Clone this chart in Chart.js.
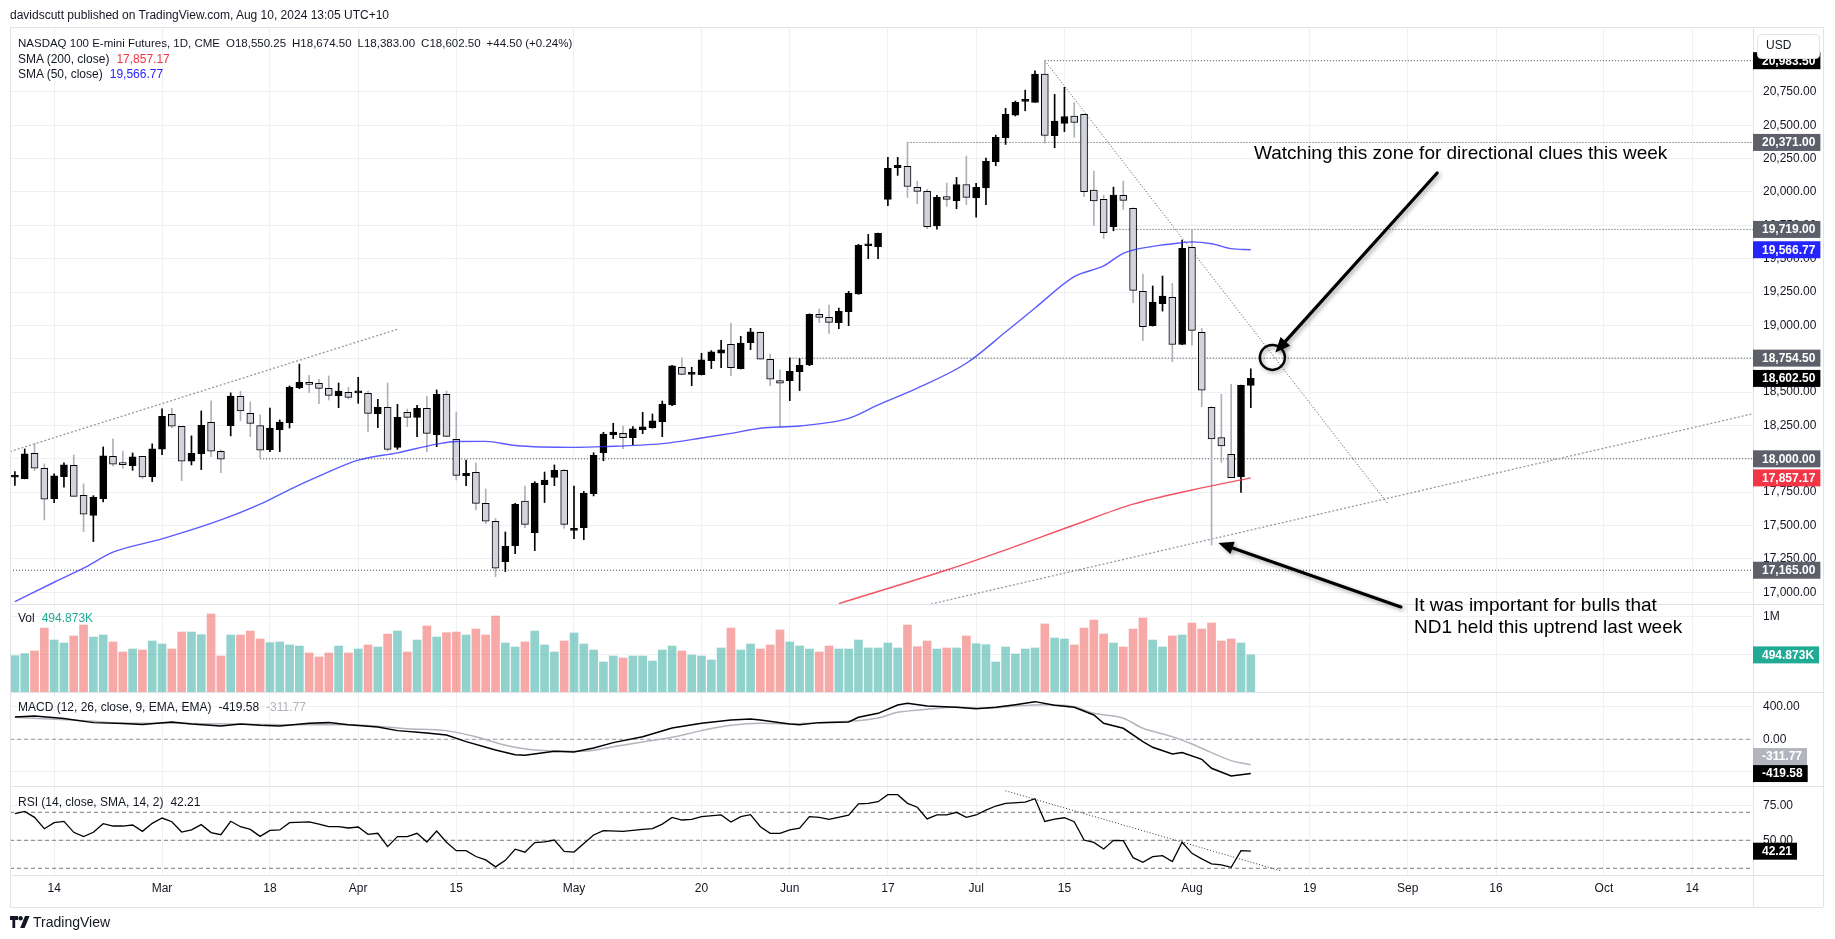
<!DOCTYPE html>
<html>
<head>
    <title>NASDAQ 100 E-mini Futures, 1D</title>
    <script src="https://cdn.jsdelivr.net/npm/chart.js"></script>
    <style>
        body { margin: 0; background: #fff; }
        #wrap { position: relative; width: 1835px; height: 939px; overflow: hidden; font-family: 'Liberation Sans', Arial, sans-serif; color: #131722; }
        #chart { position: absolute; left: 0; top: 0; }
        .lbl { position: absolute; white-space: nowrap; font-size: 12px; line-height: 16px; }
        .lbl span { margin-left: 7px; }
        .lbl span:first-child { margin-left: 0; }
        .small { font-size: 11.5px; }
        .small span { margin-left: 6px; }
        .note { position: absolute; white-space: nowrap; font-size: 19px; line-height: 22px; color: #000; }
        .logo { position: absolute; left: 10px; top: 913px; font-size: 14px; line-height: 18px; display: flex; align-items: center; gap: 3px; }
    </style>
</head>
<body>
<div id="wrap">
    <canvas id="chart" width="1835" height="939"></canvas>
    <div class="lbl" style="left:10px;top:7px">davidscutt published on TradingView.com, Aug 10, 2024 13:05 UTC+10</div>
    <div class="lbl small" style="left:18px;top:35px"><span>NASDAQ 100 E-mini Futures, 1D, CME</span><span>O18,550.25</span><span>H18,674.50</span><span>L18,383.00</span><span>C18,602.50</span><span>+44.50 (+0.24%)</span></div>
    <div class="lbl" style="left:18px;top:51px"><span>SMA (200, close)</span><span style="color:#f23645">17,857.17</span></div>
    <div class="lbl" style="left:18px;top:66px"><span>SMA (50, close)</span><span style="color:#2424ff">19,566.77</span></div>
    <div class="lbl" style="left:18px;top:610px"><span>Vol</span><span style="color:#22ab94">494.873K</span></div>
    <div class="lbl" style="left:18px;top:699px"><span>MACD (12, 26, close, 9, EMA, EMA)</span><span>-419.58</span><span style="color:#b2b5be">-311.77</span></div>
    <div class="lbl" style="left:18px;top:794px"><span>RSI (14, close, SMA, 14, 2)</span><span>42.21</span></div>
    <div class="note" style="left:1254px;top:142px">Watching this zone for directional clues this week</div>
    <div class="note" style="left:1414px;top:594px">It was important for bulls that<br>ND1 held this uptrend last week</div>
    <div class="logo">
        <svg width="20" height="12" viewBox="0 0 20 12"><path d="M0 0h8v4H5.2v8H2.4V4H0z" fill="#131722"/><circle cx="10.6" cy="2.2" r="2.2" fill="#131722"/><path d="M15 0h4.6l-5 12h-4.4z" fill="#131722"/></svg>
        <span>TradingView</span>
    </div>
</div>

<script>
    // x positions are trading-day indices: 0 = Feb 8 2024, 126 = Aug 9 2024
    const tickIdx  = [4, 15, 26, 35, 45, 57, 70, 79, 89, 98, 107, 120, 132, 142, 151, 162, 171];
    const tickText = ['14', 'Mar', '18', 'Apr', '15', 'May', '20', 'Jun', '17', 'Jul', '15', 'Aug', '19', 'Sep', '16', 'Oct', '14'];

    const opens = [17862,17852,18042,17929,17702,17867,17952,17727,17575,17702,
        18019,17960,17949,18019,17867,18072,18334,18244,17982,18039,
        18274,18057,18249,18469,18341,18249,18069,18218,18271,18533,
        18573,18566,18528,18473,18498,18494,18491,18338,18386,18086,
        18348,18311,18378,18181,18483,18146,17874,17899,17666,17532,
        17230,17349,17684,17447,17806,17861,17914,17464,17484,17739,
        18046,18181,18191,18159,18219,18234,18279,18403,18686,18633,
        18631,18736,18791,18858,18676,18871,18948,18746,18586,18586,
        18653,18703,19083,19060,19021,19103,19235,19597,19590,19944,
        20181,20191,20034,20004,19746,19966,19934,20056,19956,20031,
        20226,20406,20576,20679,20671,20883,20421,20514,20569,20581,
        20014,19944,19739,19974,19877,19255,18998,19163,19210,18857,
        19585,18947,18386,18159,18033,17866,18550.25];
    const highs = [17905,18074,18117,17962,17887,17969,18029,17812,17724,18089,
        18149,18057,18044,18019,18112,18374,18379,18244,18172,18359,
        18434,18067,18494,18506,18426,18329,18381,18291,18546,18710,
        18626,18596,18621,18568,18536,18611,18508,18446,18568,18408,
        18373,18401,18468,18516,18508,18351,17991,17969,17774,17554,
        17452,17667,17796,17829,17901,17954,17921,17796,17756,18046,
        18199,18266,18246,18241,18349,18336,18433,18701,18756,18686,
        18791,18811,18888,19018,18918,18978,18952,18786,18666,18756,
        18751,19086,19123,19153,19130,19255,19607,19682,19692,20259,
        20259,20371,20081,20019,19974,20066,20109,20269,20064,20254,
        20426,20626,20681,20763,20908,20983.5,20731,20784,20669,20584,
        20156,19977,20036,20081,19880,19385,19295,19370,19315,19640,
        19719,18977,18391,18483,18558,18553,18674.5];
    const lows = [17800,17850,17912,17542,17672,17787,17719,17455,17380,17677,
        17947,17929,17914,17854,17829,18032,18234,17837,17954,17919,
        18017,17897,18172,18286,18166,18007,18054,18054,18231,18526,
        18496,18414,18441,18383,18449,18416,18204,18234,18059,18071,
        18241,18166,18054,18091,18166,17841,17799,17617,17514,17117,
        17155,17290,17484,17312,17672,17799,17479,17402,17394,17722,
        17986,18151,18076,18106,18189,18230,18166,18398,18630,18548,
        18628,18676,18683,18623,18673,18818,18744,18548,18239,18436,
        18511,18698,19021,18940,18976,18998,19233,19500,19500,19897,
        20124,19959,19911,19724,19721,19892,19874,19904,19810,19904,
        20196,20356,20569,20608,20671,20366,20331,20451,20409,19964,
        19749,19652,19709,19869,19170,18885,18995,19107,18727,18855,
        18852,18391,17354,17974,17858,17749,18383];
    const closes = [17868,18037,17929,17697,17872,17954,17719,17585,17714,18022,
        17959,17956,18014,17864,18074,18319,18244,17982,18042,18251,
        18057,17997,18471,18359,18266,18064,18231,18276,18536,18573,
        18558,18528,18476,18508,18461,18498,18341,18386,18071,18311,
        18311,18378,18191,18483,18168,17876,17891,17666,17532,17180,
        17344,17659,17509,17819,17841,17914,17509,17472,17742,18026,
        18186,18201,18159,18224,18239,18284,18411,18696,18633,18641,
        18741,18801,18816,18683,18868,18951,18746,18596,18566,18656,
        18701,19083,19060,19023,19106,19240,19600,19602,19690,20177,
        20199,20041,20004,19739,19959,19944,20056,19959,20034,20229,
        20409,20581,20671,20684,20883,20423,20531,20564,20521,20002,
        19932,19694,19977,19937,19262,18990,19175,19220,18857,19577,
        18962,18515,18149,18096,17858,18550,18602.5];
    // volume in thousands
    const volumes = [484,511,547,853,693,653,747,893,733,760,
        667,533,573,560,680,640,573,800,800,764,
        1040,480,760,760,813,707,658,667,627,613,
        520,467,520,613,520,573,627,600,773,813,
        533,693,880,733,791,800,760,840,760,1013,
        653,600,667,813,627,533,680,787,640,560,
        400,480,453,480,480,413,560,613,547,493,
        480,427,587,853,560,640,573,627,827,667,
        613,573,533,613,573,573,693,587,587,653,
        587,893,604,680,573,587,587,747,644,631,
        400,600,507,573,587,907,720,707,627,853,
        960,773,653,600,840,987,693,600,747,760,
        920,840,920,680,707,653,494.873];

    // indicator readings as [index, value]
    const sma50 = [[0,16930],[4,17075],[7,17180],[10,17300],[15,17400],[21,17542],[25,17660],[28,17770],
        [31,17870],[35,17990],[39,18045],[43,18110],[45,18130],[48,18131],[51,18100],[57,18086],[60,18091],
        [66,18114],[70,18156],[73,18191],[76,18229],[80,18246],[85,18303],[88,18404],[92,18530],[97,18716],
        [101,18950],[104,19130],[108,19365],[111,19445],[113,19540],[116,19592],[119,19620],[120,19626],
        [122,19612],[124,19575],[126,19566.77]];
    const sma200 = [[84,16915],[95,17167],[100,17292],[108,17504],[114,17660],[120,17766],[126,17857.17]];
    const macd = [[0,272],[2,284],[5,255],[8,204],[11,194],[13,180],[16,212],[18,187],[21,163],[23,187],
        [25,171],[27,163],[30,196],[32,204],[34,179],[37,150],[39,106],[42,78],[44,53],[46,-29],[49,-131],
        [51,-190],[52,-196],[55,-147],[57,-155],[59,-106],[61,-41],[64,32],[67,138],[70,196],[73,237],
        [75,249],[76,237],[79,188],[80,179],[82,204],[85,212],[86,269],[88,318],[90,420],[91,441],[93,408],
        [96,392],[98,375],[100,392],[102,424],[104,461],[106,416],[108,392],[110,298],[111,196],[113,135],
        [115,-29],[116,-98],[118,-180],[119,-163],[121,-245],[122,-355],[124,-449],[126,-419.58]];
    const signal = [[0,269],[4,245],[8,220],[10,204],[16,196],[22,187],[28,179],[34,179],[40,130],[44,106],
        [47,32],[50,-73],[53,-131],[58,-147],[61,-90],[64,-33],[67,24],[70,106],[73,171],[76,196],[79,188],
        [82,204],[85,220],[88,261],[90,330],[93,367],[96,392],[99,379],[102,408],[105,424],[108,400],
        [110,318],[113,257],[115,135],[118,33],[120,-57],[122,-163],[124,-261],[126,-311.77]];
    const rsi = [[0,69],[1,70.7],[2,66.4],[3,58.3],[4,62.6],[5,63.5],[6,55.7],[7,52.6],[8,55.7],[9,61.9],
        [10,60.2],[11,60.2],[12,60.9],[13,56.4],[14,62.1],[15,65.9],[16,63.3],[17,55.9],[18,57.4],[19,61.2],
        [20,55.5],[21,54.0],[22,63.6],[23,59.7],[24,57.8],[25,52.8],[26,57.1],[27,57.4],[28,62.6],[30,63.1],
        [31,61.6],[32,59.7],[33,59.7],[34,58.8],[35,59.5],[36,54.3],[37,55.0],[38,45.5],[39,52.6],[40,52.6],
        [41,55.0],[42,48.8],[43,56.6],[44,48.6],[45,42.6],[46,42.6],[47,38.4],[48,36.0],[49,31.0],[50,35.7],
        [51,43.6],[52,41.5],[53,48.4],[54,48.8],[55,50.2],[56,42.1],[57,41.6],[59,53.8],[60,56.9],[62,56.4],
        [64,57.8],[65,58.3],[66,61.6],[67,66.4],[68,64.5],[69,65.0],[70,66.9],[72,68.1],[73,63.1],[74,66.9],
        [75,68.3],[76,59.7],[77,55.0],[78,55.0],[79,57.4],[80,58.6],[81,66.9],[82,66.4],[83,65.0],[85,67.9],
        [86,76.0],[87,76.4],[88,77.6],[89,82.6],[90,82.6],[91,76.4],[92,73.6],[93,65.3],[94,68.1],[95,68.1],
        [96,70.0],[97,66.4],[98,68.1],[99,71.6],[100,74.5],[101,76.4],[103,77.3],[104,79.7],[105,63.5],
        [106,65.2],[107,66.1],[108,63.3],[109,50.2],[110,48.5],[111,43.8],[112,50.0],[113,49.7],[114,37.6],
        [115,34.3],[116,38.3],[117,39.0],[118,34.8],[119,48.6],[120,40.7],[121,36.7],[122,33.1],[123,32.4],
        [124,30.7],[125,42.6],[126,42.21]];
    const rsiLevels = [70, 50, 30];

    // drawn levels and trend lines
    const levelValues = [20983.5, 20371, 19719, 18754.5, 18000, 17165];
    const levelStarts = [105, 91, 112, 79, 25, -0.5];
    const trendUpper  = [[-0.5, 18054], [39, 18971]];
    const trendDown   = [[105, 20983.5], [140, 17660]];
    const trendLower  = [[93, 16905], [177.2, 18338]];
    const rsiTrend    = [[101, 85.4], [129, 28.3]];

    const xMin = -0.5, xMax = 177.2;
    const weights = {y: 577, yVol: 88, yMacd: 94, yRsi: 89};

    function lineSet(points, axis, color, width, dash, order, smooth) {
        return {
            type: 'line', yAxisID: axis,
            data: points.map(p => ({x: p[0], y: p[1]})),
            borderColor: color, borderWidth: width, borderDash: dash || [],
            pointRadius: 0, tension: smooth ? 0.4 : 0, cubicInterpolationMode: smooth ? 'monotone' : 'default',
            fill: false, order: order
        };
    }

    const idx = opens.map((_, i) => i);
    const up = idx.map(i => closes[i] >= opens[i]);

    const datasets = [
        {
            type: 'bar', yAxisID: 'y', order: 2, grouped: false,
            data: idx.map(i => ({x: i, y: [Math.min(opens[i], closes[i]), Math.max(opens[i], closes[i])]})),
            backgroundColor: idx.map(i => up[i] ? '#000000' : '#d1d4dc'),
            borderColor: '#000000', borderWidth: 1, borderSkipped: false,
            barThickness: 7, minBarLength: 2
        },
        {
            type: 'bar', yAxisID: 'y', order: 3, grouped: false,
            data: idx.map(i => ({x: i, y: [lows[i], highs[i]]})),
            backgroundColor: idx.map(i => up[i] ? '#000000' : '#aeb1ba'),
            barThickness: 1
        },
        lineSet(sma50, 'y', 'rgba(36,36,255,0.75)', 1.4, null, 1, true),
        lineSet(sma200, 'y', 'rgba(242,54,69,0.85)', 1.4, null, 1, true),
        lineSet(trendUpper, 'y', '#9598a1', 1.3, [2, 2], 4),
        lineSet(trendDown, 'y', '#4a4d57', 1, [1, 2], 4),
        lineSet(trendLower, 'y', '#9598a1', 1.3, [2, 2], 4),
        {
            type: 'bar', yAxisID: 'yVol', order: 2, grouped: false,
            data: idx.map(i => ({x: i, y: volumes[i]})),
            backgroundColor: idx.map(i => up[i] ? 'rgba(38,166,154,0.5)' : 'rgba(239,83,80,0.5)'),
            barThickness: 8
        },
        lineSet([[xMin, 0], [xMax, 0]], 'yMacd', '#9598a1', 1, [4, 3], 4),
        lineSet(signal, 'yMacd', '#b2b5be', 1.5, null, 2, true),
        lineSet(macd, 'yMacd', '#000000', 1.5, null, 1),
        lineSet(rsi, 'yRsi', '#000000', 1.3, null, 1),
        lineSet(rsiTrend, 'yRsi', '#2a2e39', 1, [1, 2], 3)
    ];
    levelValues.forEach((v, k) => {
        datasets.push(lineSet([[levelStarts[k], v], [xMax, v]], 'y', '#434651', 1, [1, 2], 4));
    });
    rsiLevels.forEach(v => {
        datasets.push(lineSet([[xMin, v], [xMax, v]], 'yRsi', '#787b86', 1, [4, 3], 4));
    });

    // value tags on the price scales
    const tags = [
        {axis: 'y', v: 20983.5, text: '20,983.50', bg: '#000000'},
        {axis: 'y', v: 20371, text: '20,371.00', bg: '#5d606b'},
        {axis: 'y', v: 19719, text: '19,719.00', bg: '#5d606b'},
        {axis: 'y', v: 19566.77, text: '19,566.77', bg: '#2424ff'},
        {axis: 'y', v: 18754.5, text: '18,754.50', bg: '#5d606b'},
        {axis: 'y', v: 18602.5, text: '18,602.50', bg: '#000000'},
        {axis: 'y', v: 18000, text: '18,000.00', bg: '#5d606b'},
        {axis: 'y', v: 17857.17, text: '17,857.17', bg: '#f23645'},
        {axis: 'y', v: 17165, text: '17,165.00', bg: '#5d606b'},
        {axis: 'yVol', v: 494.873, text: '494.873K', bg: '#22ab94'},
        {axis: 'yMacd', v: -419.58, text: '-419.58', bg: '#000000'},
        {axis: 'yMacd', v: -311.77, text: '-311.77', bg: '#b2b5be'},
        {axis: 'yRsi', v: 42.21, text: '42.21', bg: '#000000'}
    ];

    const circleAt = [128.2, 18760];
    const arrows = [
        [[145.0, 20142], [128.5, 18797]],
        [[141.3, 16890], [122.7, 17369]]
    ];

    function drawArrow(ctx, x1, y1, x2, y2) {
        const ang = Math.atan2(y2 - y1, x2 - x1);
        const head = 15, half = 6.5;
        const bx = x2 - Math.cos(ang) * head, by = y2 - Math.sin(ang) * head;
        ctx.beginPath(); ctx.moveTo(x1, y1); ctx.lineTo(bx, by); ctx.stroke();
        ctx.beginPath(); ctx.moveTo(x2, y2);
        ctx.lineTo(bx + Math.sin(ang) * half, by - Math.cos(ang) * half);
        ctx.lineTo(bx - Math.sin(ang) * half, by + Math.cos(ang) * half);
        ctx.closePath(); ctx.fill();
    }

    const overlay = {
        id: 'overlay',
        afterDraw(chart) {
            const ctx = chart.ctx, a = chart.chartArea, s = chart.scales;
            const right = s.y.right, bottom = s.x.bottom;
            ctx.save();

            // pane separators and frame
            ctx.strokeStyle = '#e0e3eb'; ctx.lineWidth = 1;
            ctx.beginPath();
            [a.top, s.y.bottom, s.yVol.bottom, s.yMacd.bottom, a.bottom, bottom].forEach(yy => {
                const p = Math.round(yy) + 0.5;
                ctx.moveTo(a.left, p); ctx.lineTo(right, p);
            });
            [a.left, a.right, right].forEach(xx => {
                const p = Math.round(xx) + 0.5;
                ctx.moveTo(p, a.top); ctx.lineTo(p, bottom);
            });
            ctx.stroke();

            // value tags
            ctx.font = 'bold 12px "Liberation Sans", Arial, sans-serif';
            ctx.textBaseline = 'middle'; ctx.textAlign = 'left';
            const placed = {};
            tags.forEach(t => {
                const sc = s[t.axis];
                let yy = sc.getPixelForValue(t.v);
                (placed[t.axis] || []).forEach(py => {
                    if (Math.abs(py - yy) < 17) yy = yy < py ? py - 17 : py + 17;
                });
                (placed[t.axis] = placed[t.axis] || []).push(yy);
                const w = ctx.measureText(t.text).width + 14;
                ctx.fillStyle = t.bg;
                ctx.fillRect(sc.left, yy - 8.5, w, 17);
                ctx.fillStyle = '#ffffff';
                ctx.fillText(t.text, sc.left + 9, yy + 0.5);
            });

            // circle and arrows
            ctx.shadowColor = 'rgba(0,0,0,0.35)';
            ctx.shadowBlur = 4; ctx.shadowOffsetX = 2; ctx.shadowOffsetY = 2;
            ctx.strokeStyle = '#000000'; ctx.fillStyle = '#000000';
            ctx.lineWidth = 2.5;
            ctx.beginPath();
            ctx.arc(s.x.getPixelForValue(circleAt[0]), s.y.getPixelForValue(circleAt[1]), 12.5, 0, Math.PI * 2);
            ctx.stroke();
            ctx.lineWidth = 3.2; ctx.lineCap = 'round';
            arrows.forEach(ar => {
                drawArrow(ctx,
                    s.x.getPixelForValue(ar[0][0]), s.y.getPixelForValue(ar[0][1]),
                    s.x.getPixelForValue(ar[1][0]), s.y.getPixelForValue(ar[1][1]));
            });
            ctx.shadowColor = 'transparent';

            // currency box
            ctx.fillStyle = '#ffffff'; ctx.strokeStyle = '#e0e3eb'; ctx.lineWidth = 1;
            ctx.beginPath();
            ctx.roundRect(a.right + 4.5, 34.5, 62, 24, 4);
            ctx.fill(); ctx.stroke();
            ctx.fillStyle = '#131722';
            ctx.font = '12px "Liberation Sans", Arial, sans-serif';
            ctx.fillText('USD', a.right + 13, 46);
            ctx.restore();
        }
    };

    const gridColor = '#eef0f3';
    function paneAxis(key, min, max, ticks, fmt) {
        return {
            type: 'linear', position: 'right', stack: 'panes', stackWeight: weights[key],
            min: min, max: max,
            afterBuildTicks: sc => { sc.ticks = ticks.map(v => ({value: v})); },
            afterFit: sc => { sc.width = 70; },
            grid: {color: gridColor, drawTicks: false},
            border: {display: false},
            ticks: {padding: 10, color: '#131722', callback: fmt}
        };
    }
    const fmt2 = v => v.toLocaleString('en-US', {minimumFractionDigits: 2, maximumFractionDigits: 2});
    const priceTicks = [];
    for (let v = 17000; v <= 20750; v += 250) priceTicks.push(v);

    Chart.defaults.font.family = "'Liberation Sans', Arial, sans-serif";
    Chart.defaults.font.size = 12;
    Chart.defaults.color = '#131722';

    new Chart(document.getElementById('chart').getContext('2d'), {
        type: 'bar',
        data: {datasets: datasets},
        options: {
            responsive: false, animation: false, devicePixelRatio: 1, events: [],
            layout: {padding: {left: 10, top: 27, right: 12, bottom: 32}},
            plugins: {legend: {display: false}, tooltip: {enabled: false}},
            scales: {
                x: {
                    type: 'linear', min: xMin, max: xMax, offset: false,
                    afterBuildTicks: sc => { sc.ticks = tickIdx.map(v => ({value: v})); },
                    afterFit: sc => { sc.height = 32; },
                    grid: {color: gridColor, drawTicks: false, offset: false},
                    border: {display: false},
                    ticks: {
                        padding: 6, autoSkip: false, maxRotation: 0, color: '#131722',
                        callback: v => tickText[tickIdx.indexOf(v)]
                    }
                },
                y: paneAxis('y', 16912, 21236, priceTicks, fmt2),
                yVol: paneAxis('yVol', 0, 1173.3, [500, 1000], v => v === 1000 ? '1M' : ''),
                yMacd: paneAxis('yMacd', -572, 579, [-400, 0, 400], fmt2),
                yRsi: paneAxis('yRsi', 25.2, 88.8, [50, 75], fmt2)
            }
        },
        plugins: [overlay]
    });
</script>
</body>
</html>
